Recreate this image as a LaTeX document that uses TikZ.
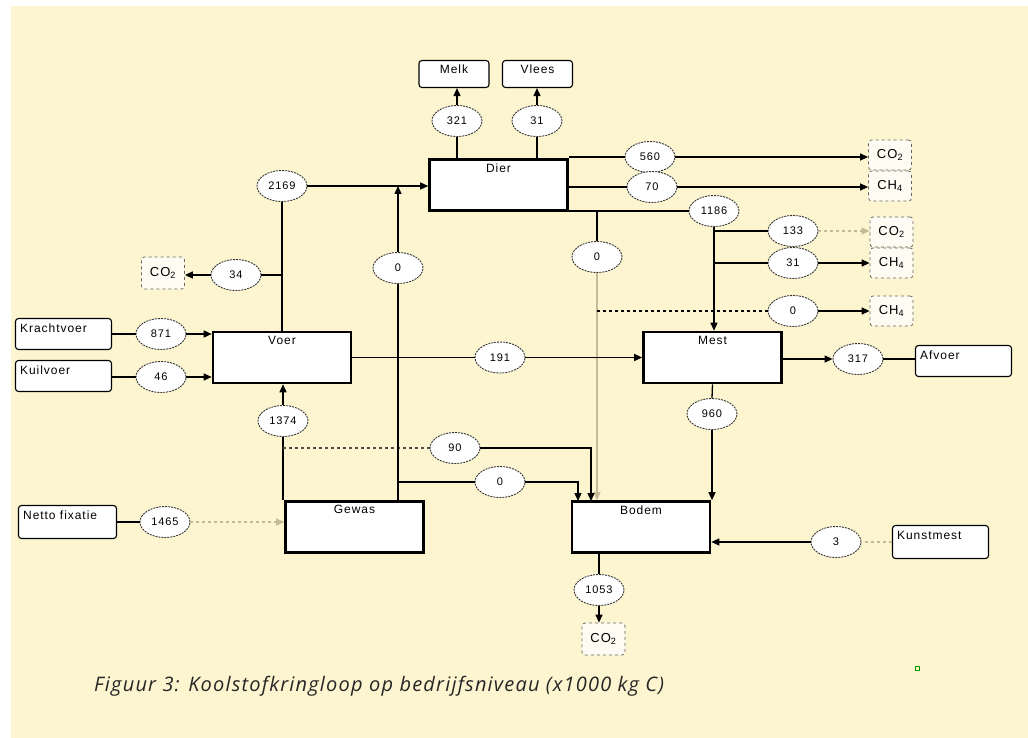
\documentclass[tikz,border=0pt]{standalone}
\usepackage{fontspec}
\setmainfont{Liberation Sans}[LetterSpace=8]
\newfontfamily\captionfont{Open Sans}[LetterSpace=6]
\usepackage{tikz}
\usetikzlibrary{arrows.meta,shapes.geometric}
\definecolor{creamBg}{RGB}{252,245,208}
\definecolor{faintLine}{RGB}{196,186,150}
\definecolor{gasFill}{RGB}{253,251,242}

\begin{document}
\begin{tikzpicture}[x=1pt, y=-1pt, >={Triangle[length=8pt,width=7pt]},
        every node/.style={font=\fontsize{11}{13}\selectfont}]
        \tikzstyle{procBox} = [draw=black, line width=2.6pt, fill=white, minimum width=138pt, minimum height=51pt, inner sep=0pt]
        \tikzstyle{procText} = [anchor=north, inner sep=0pt, yshift=-5pt, font=\fontsize{12}{14}\selectfont]
        \tikzstyle{srcBox} = [draw=black, line width=1.1pt, rounded corners=3pt, fill=white, minimum width=96pt, minimum height=31pt, inner sep=0pt]
        \tikzstyle{srcText} = [anchor=north west, inner sep=0pt, xshift=5pt, yshift=-6pt, font=\fontsize{12}{14}\selectfont]
        \tikzstyle{topText} = [anchor=north, inner sep=0pt, yshift=-5pt, font=\fontsize{12}{14}\selectfont]
        \tikzstyle{gasBox} = [draw=black!60, dashed, line width=0.8pt, rounded corners=3pt, fill=gasFill, minimum width=43pt, minimum height=30pt, inner sep=0pt, font=\fontsize{13}{15}\selectfont]
        \tikzstyle{flowVal} = [ellipse, draw=black!80, dash pattern=on 2pt off 1pt, line width=0.9pt, fill=white, minimum width=50pt, minimum height=31pt, inner sep=0pt]
        \tikzstyle{blackEdge} = [draw=black, line width=1.3pt]
        \tikzstyle{arrowEdge} = [blackEdge, ->]
        \tikzstyle{dashEdge} = [blackEdge, dashed]
        \tikzstyle{faintEdge} = [draw=faintLine, line width=1.1pt]
        % background
        \fill[white] (0,0) rectangle (1028,738);
        \fill[creamBg] (11,6) rectangle (1028,738);
        % process boxes
        \node[procBox, label={[procText]north:Dier}] (dier) at (498.5,185) {};
        \node[procBox, label={[procText]north:Voer}] (voer) at (282,357.5) {};
        \node[procBox, label={[procText]north:Mest}] (mest) at (712.5,357.5) {};
        \node[procBox, label={[procText]north:Gewas}] (gewas) at (354.5,527) {};
        \node[procBox, label={[procText]north:Bodem}] (bodem) at (641,527) {};
        % sources and sinks
        \node[srcBox, minimum width=70pt, minimum height=27pt, label={[topText]north:Melk}] (melk) at (454,74) {};
        \node[srcBox, minimum width=70pt, minimum height=27pt, label={[topText]north:Vlees}] (vlees) at (537.5,74) {};
        \node[srcBox, label={[srcText]north west:Krachtvoer}] (kracht) at (63.5,334) {};
        \node[srcBox, label={[srcText]north west:Kuilvoer}] (kuil) at (63.5,376) {};
        \node[srcBox, minimum width=98pt, minimum height=33pt, label={[srcText]north west:Netto fixatie}] (netto) at (67.5,522) {};
        \node[srcBox, label={[srcText]north west:Afvoer}] (afvoer) at (963.5,361) {};
        \node[srcBox, minimum height=33pt, label={[srcText]north west:Kunstmest}] (kunst) at (940.5,542) {};
        % gases
        \node[gasBox] (co2a) at (890,155) {CO\textsubscript{2}};
        \node[gasBox] (ch4a) at (890,186) {CH\textsubscript{4}};
        \node[gasBox] (co2b) at (891.5,232) {CO\textsubscript{2}};
        \node[gasBox] (ch4b) at (891.5,263) {CH\textsubscript{4}};
        \node[gasBox] (ch4c) at (891.5,311) {CH\textsubscript{4}};
        \node[gasBox, minimum height=32pt] (co2l) at (163,273) {CO\textsubscript{2}};
        \node[gasBox, minimum height=32pt] (co2d) at (603.5,639) {CO\textsubscript{2}};
        % flow values
        \node[flowVal] (v321) at (457,121) {321};
        \node[flowVal] (v31) at (537,121) {31};
        \node[flowVal] (v560) at (650,157) {560};
        \node[flowVal] (v70) at (652,187) {70};
        \node[flowVal] (v1186) at (714,211) {1186};
        \node[flowVal] (v133) at (793,231) {133};
        \node[flowVal] (v31b) at (793,263) {31};
        \node[flowVal] (v0c) at (793,311) {0};
        \node[flowVal] (v0a) at (597,257) {0};
        \node[flowVal] (v2169) at (282,186) {2169};
        \node[flowVal] (v34) at (236,275) {34};
        \node[flowVal] (v0b) at (398,268) {0};
        \node[flowVal] (v871) at (161,334) {871};
        \node[flowVal] (v46) at (161,377) {46};
        \node[flowVal] (v1374) at (283,421) {1374};
        \node[flowVal] (v90) at (455,448) {90};
        \node[flowVal] (v0d) at (500,482) {0};
        \node[flowVal] (v191) at (500,357.5) {191};
        \node[flowVal] (v317) at (858,359) {317};
        \node[flowVal] (v960) at (712,414) {960};
        \node[flowVal] (v3) at (836,542) {3};
        \node[flowVal] (v1053) at (599,590) {1053};
        \node[flowVal] (v1465) at (165,522) {1465};
        % junctions
        \coordinate (j0a) at (v0a |- v1186);
        \coordinate (j133) at (v1186.south |- v133);
        \coordinate (j31b) at (v1186.south |- v31b);
        \coordinate (j0c) at (v0a.south |- v0c);
        \coordinate (j34) at (voer.north |- v34);
        \coordinate (jGewasL) at (v1374.south |- gewas.north);
        \coordinate (j90) at (v1374 |- v90);
        \coordinate (jGewasM) at (v0b.south |- gewas.north);
        \coordinate (jFeed) at (v0b |- v2169);
        \coordinate (j0d) at (v0b |- v0d);
        \coordinate (b90) at (591,501);
        \coordinate (b0d) at (578,501);
        \coordinate (b960) at (v960.south |- bodem.north);
        % dier
        \draw[blackEdge] (v321.south |- dier.north) -- (v321.south);
        \draw[arrowEdge] (v321.north) -- (v321.north |- melk.south);
        \draw[blackEdge] (v31.south |- dier.north) -- (v31.south);
        \draw[arrowEdge] (v31.north) -- (v31.north |- vlees.south);
        \draw[blackEdge] (v560.west -| dier.east) -- (v560.west);
        \draw[arrowEdge] (v560.east) -- (v560.east -| co2a.west);
        \draw[blackEdge] (v70.west -| dier.east) -- (v70.west);
        \draw[arrowEdge] (v70.east) -- (v70.east -| ch4a.west);
        \draw[blackEdge] (v1186.west -| dier.east) -- (v1186.west);
        \draw[blackEdge] (j0a) -- (v0a.north);
        \draw[faintEdge, ->] (v0a.south) -- (v0a.south |- bodem.north);
        \draw[arrowEdge] (v1186.south) -- (v1186.south |- mest.north);
        \draw[blackEdge] (j133) -- (v133.west);
        \draw[faintEdge, dashed, ->] (v133.east) -- (v133.east -| co2b.west);
        \draw[blackEdge] (j31b) -- (v31b.west);
        \draw[arrowEdge] (v31b.east) -- (v31b.east -| ch4b.west);
        \draw[dashEdge] (j0c) -- (v0c.west);
        \draw[arrowEdge] (v0c.east) -- (v0c.east -| ch4c.west);
        % voer
        \draw[blackEdge] (voer.north) -- (v2169.south);
        \draw[arrowEdge] (v2169.east) -- (v2169.east -| dier.west);
        \draw[blackEdge] (j34) -- (v34.east);
        \draw[arrowEdge] (v34.west) -- (v34.west -| co2l.east);
        \draw[blackEdge] (kracht.east) -- (v871.west);
        \draw[arrowEdge] (v871.east) -- (v871.east -| voer.west);
        \draw[blackEdge] (kuil.east |- v46) -- (v46.west);
        \draw[arrowEdge] (v46.east) -- (v46.east -| voer.west);
        \draw[blackEdge] (voer.east) -- (v191.west);
        \draw[arrowEdge] (v191.east) -- (mest.west);
        \draw[arrowEdge] (v1374.north) -- (v1374.north |- voer.south);
        % gewas
        \draw[blackEdge] (jGewasL) -- (v1374.south);
        \draw[dashEdge, draw=black!70] (j90) -- (v90.west);
        \draw[arrowEdge] (v90.east) -| (b90);
        \draw[blackEdge] (jGewasM) -- (v0b.south);
        \draw[arrowEdge] (v0b.north) -- (jFeed);
        \draw[blackEdge] (j0d) -- (v0d.west);
        \draw[arrowEdge] (v0d.east) -| (b0d);
        \draw[blackEdge] (netto.east) -- (v1465.west);
        \draw[faintEdge, dashed, ->] (v1465.east) -- (v1465.east -| gewas.west);
        % mest
        \draw[arrowEdge] (mest.east |- v317) -- (v317.west);
        \draw[blackEdge] (v317.east) -- (v317.east -| afvoer.west);
        \draw[blackEdge] (mest.south) -- (v960.north);
        \draw[arrowEdge] (v960.south) -- (b960);
        % bodem
        \draw[arrowEdge] (v3.west) -- (v3.west -| bodem.east);
        \draw[faintEdge, dashed] (kunst.west) -- (v3.east);
        \draw[blackEdge] (v1053.north |- bodem.south) -- (v1053.north);
        \draw[arrowEdge] (v1053.south) -- (v1053.south |- co2d.north);
        % caption
        \node[font=\captionfont\itshape\fontsize{20}{24}\selectfont, anchor=west, inner sep=0pt, text=black!85] (caption) at (94,686) {Figuur 3: Koolstofkringloop op bedrijfsniveau (x1000 kg C)};
        \draw[green!60!black, line width=0.8pt] (915,666) rectangle (919,670);
    \end{tikzpicture}
\end{document}
